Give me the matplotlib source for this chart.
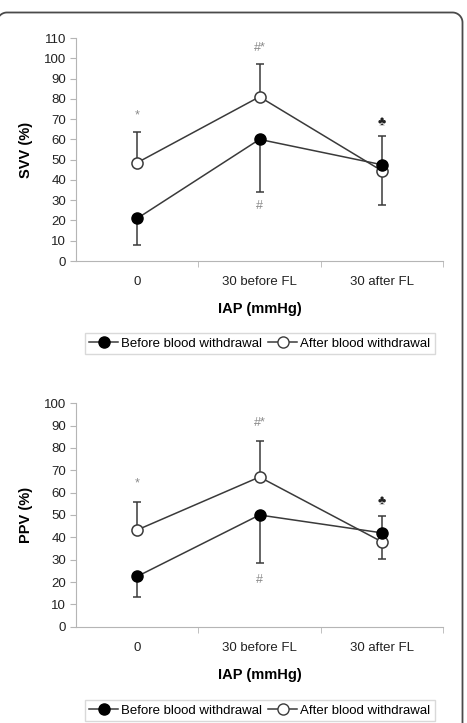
import numpy as np
import matplotlib.pyplot as plt
from matplotlib.lines import Line2D

plt.rcParams['font.family'] = ['Liberation Sans', 'DejaVu Sans']

categories = ['0', '30 before FL', '30 after FL']
xlabel = 'IAP (mmHg)'
legend_labels = ['Before blood withdrawal', 'After blood withdrawal']

# SVV panel
svv_before = [21, 60, 47.5]
svv_before_err_low = [13, 26, 0]
svv_before_err_high = [0, 0, 14]
svv_after = [48.5, 81, 44.5]
svv_after_err_low = [0, 0, 17]
svv_after_err_high = [15, 16, 0]
svv_marks = ['*', '#*', '#', '\u2663']
svv_mark_y = [72, 105, 27, 68.5]

# PPV panel
ppv_before = [22.5, 50, 42]
ppv_before_err_low = [9.3, 21.5, 0]
ppv_before_err_high = [0, 0, 7.5]
ppv_after = [43.3, 67, 38]
ppv_after_err_low = [0, 0, 7.7]
ppv_after_err_high = [12.7, 16, 0]
ppv_marks = ['*', '#*', '#', '\u2663']
ppv_mark_y = [64, 91, 21, 56.5]

mark_x = [0, 1, 1, 2]
mark_colors = ['#8a8a8a', '#8a8a8a', '#8a8a8a', '#222222']

W, H = 467, 723
fig = plt.figure(figsize=(W / 100, H / 100), dpi=100)

# page frame: top edge, right edge and rounded corners, in pixel coords (y down)
bg = fig.add_axes([0, 0, 1, 1])
bg.set_xlim(0, W)
bg.set_ylim(H, 0)
bg.axis('off')
r = 10
top, left, right = 12.5, -3, 462.5
t1 = np.linspace(np.pi, np.pi / 2, 20)
t2 = np.linspace(np.pi / 2, 0, 20)
fx = np.concatenate([left + r + r * np.cos(t1), right - r + r * np.cos(t2), [right]])
fy = np.concatenate([top + r - r * np.sin(t1), top + r - r * np.sin(t2), [H + 5]])
bg.plot(fx, fy, color='#4a4a4a', lw=1.3, clip_on=False)

line_c = '#3a3a3a'
axis_c = '#b5b5b5'


def panel(rect, before, b_lo, b_hi, after, a_lo, a_hi, ylabel, ymax, marks, mark_y, leg_top):
    ax = fig.add_axes(rect)
    x = list(range(len(categories)))
    ax.errorbar(x, before, yerr=[b_lo, b_hi], fmt='none', ecolor=line_c,
                elinewidth=1.1, capsize=3, capthick=1.1, zorder=2)
    ax.errorbar(x, after, yerr=[a_lo, a_hi], fmt='none', ecolor=line_c,
                elinewidth=1.1, capsize=3, capthick=1.1, zorder=2)
    ax.plot(x, before, color=line_c, lw=1.1, marker='o', ms=8,
            mfc='black', mec='black', zorder=4)
    ax.plot(x, after, color=line_c, lw=1.1, marker='o', ms=8,
            mfc='white', mec=line_c, mew=1.1, zorder=3)
    for mx, my, t, c in zip(mark_x, mark_y, marks, mark_colors):
        ax.text(mx, my, t, ha='center', va='center', fontsize=9, color=c)
    ax.set_xlim(-0.5, 2.5)
    ax.set_ylim(0, ymax)
    ax.set_yticks(range(0, ymax + 1, 10))
    ax.set_xticks(x)
    ax.set_xticklabels(categories)
    ax.set_xticks([0.5, 1.5, 2.5], minor=True)
    ax.tick_params(axis='x', which='major', length=0, pad=11, labelsize=9.5, labelcolor='#222222')
    ax.tick_params(axis='x', which='minor', length=4, color=axis_c, direction='out')
    ax.tick_params(axis='y', length=4, color=axis_c, pad=3, labelsize=9.5, labelcolor='#222222')
    for s in ['top', 'right']:
        ax.spines[s].set_visible(False)
    for s in ['left', 'bottom']:
        ax.spines[s].set_color(axis_c)
    ax.set_ylabel(ylabel, fontsize=10.5, fontweight='bold', labelpad=8)
    ax.set_xlabel(xlabel, fontsize=10.5, fontweight='bold', labelpad=10)

    handles = [Line2D([], [], color=line_c, lw=1.1, marker='o', ms=8, mfc='black', mec='black'),
               Line2D([], [], color=line_c, lw=1.1, marker='o', ms=8, mfc='white', mec=line_c)]
    leg = fig.legend(handles, legend_labels, loc='upper center', ncol=2,
                     bbox_to_anchor=(0.556, leg_top), fontsize=9.5, frameon=True,
                     fancybox=False, edgecolor='#d0d0d0', handlelength=2.2,
                     handletextpad=0.2, columnspacing=0.5, borderpad=0.35,
                     borderaxespad=0)
    leg.get_frame().set_linewidth(1.0)
    return ax


panel([0.1627, 0.639, 0.786, 0.3084], svv_before, svv_before_err_low, svv_before_err_high,
      svv_after, svv_after_err_low, svv_after_err_high, 'SVV (%)', 110, svv_marks, svv_mark_y, 0.5394)
panel([0.1627, 0.1332, 0.786, 0.309], ppv_before, ppv_before_err_low, ppv_before_err_high,
      ppv_after, ppv_after_err_low, ppv_after_err_high, 'PPV (%)', 100, ppv_marks, ppv_mark_y, 0.0318)

fig.savefig('out.png', dpi=100)
